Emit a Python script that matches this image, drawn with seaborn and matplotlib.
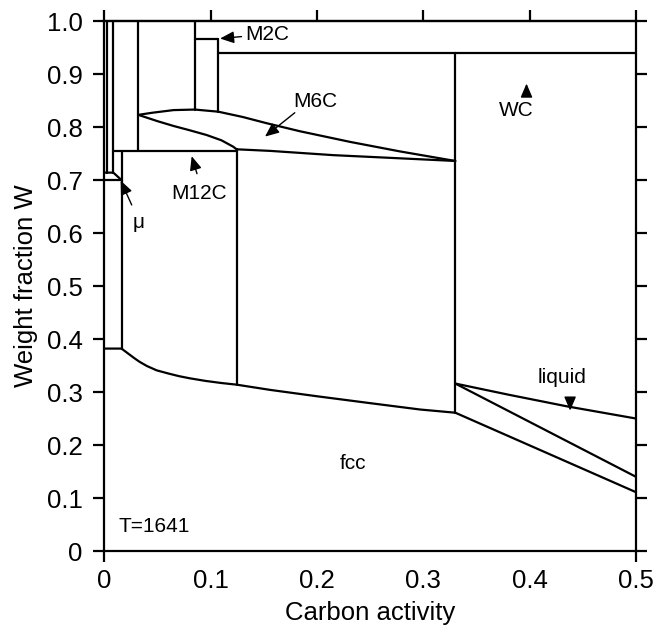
import numpy as np
import pandas as pd
import matplotlib
matplotlib.use("Agg")
import matplotlib.pyplot as plt
import seaborn as sns

# ---- phase boundaries at T = 1641 (carbon activity vs. weight fraction W) ----
fcc_x = [0.0, 0.016, 0.020, 0.024, 0.028, 0.033, 0.040, 0.049, 0.060, 0.070,
         0.080, 0.095, 0.110, 0.124, 0.156, 0.200, 0.250, 0.297, 0.330, 0.500]
fcc_w = [0.382, 0.382, 0.376, 0.370, 0.364, 0.357, 0.349, 0.341, 0.335, 0.330,
         0.326, 0.321, 0.317, 0.314, 0.304, 0.292, 0.279, 0.267, 0.261, 0.111]

m6c_upper_x = [0.0318, 0.045, 0.065, 0.085, 0.107, 0.130, 0.153, 0.184, 0.231, 0.278, 0.330]
m6c_upper_w = [0.823, 0.827, 0.832, 0.833, 0.829, 0.819, 0.807, 0.792, 0.772, 0.754, 0.736]

m6c_lower_x = [0.0318, 0.050, 0.065, 0.080, 0.096, 0.110, 0.121, 0.1243, 0.156, 0.215, 0.278, 0.330]
m6c_lower_w = [0.823, 0.811, 0.802, 0.794, 0.785, 0.775, 0.763, 0.758, 0.755, 0.747, 0.741, 0.736]

liquid_upper_x = [0.330, 0.380, 0.435, 0.500]
liquid_upper_w = [0.316, 0.295, 0.273, 0.250]

liquid_lower_x = [0.330, 0.500]
liquid_lower_w = [0.316, 0.140]

wc_x = [0.107, 0.500]
wc_w = [0.940, 0.940]

m2c_x = [0.085, 0.107]
m2c_w = [0.967, 0.967]

m12c_x = [0.0083, 0.1243]
m12c_w = [0.755, 0.755]

mu_upper_x = [0.0, 0.0083, 0.016]
mu_upper_w = [0.714, 0.714, 0.700]
mu_lower_x = [0.0, 0.016]
mu_lower_w = [0.700, 0.700]

# vertical boundaries: (x, W top, W bottom)
vert_x = [0.0026, 0.0083, 0.016, 0.0318, 0.085, 0.107, 0.1243, 0.330]
vert_top = [1.000, 1.000, 0.755, 1.000, 1.000, 0.967, 0.758, 0.940]
vert_bot = [0.714, 0.714, 0.382, 0.755, 0.833, 0.829, 0.314, 0.261]

x_ticks = [0, 0.1, 0.2, 0.3, 0.4, 0.5]
x_tick_labels = ["0", "0.1", "0.2", "0.3", "0.4", "0.5"]
y_ticks = [0, 0.1, 0.2, 0.3, 0.4, 0.5, 0.6, 0.7, 0.8, 0.9, 1.0]
y_tick_labels = ["0", "0.1", "0.2", "0.3", "0.4", "0.5", "0.6", "0.7", "0.8", "0.9", "1.0"]

# ---- assemble one long table of line segments ----
rows = []
def add(name, xs, ws):
    for i, (a, b) in enumerate(zip(xs, ws)):
        rows.append({"seg": name, "order": i, "x": a, "w": b})

add("fcc", fcc_x, fcc_w)
add("m6c_upper", m6c_upper_x, m6c_upper_w)
add("m6c_lower", m6c_lower_x, m6c_lower_w)
add("liquid_upper", liquid_upper_x, liquid_upper_w)
add("liquid_lower", liquid_lower_x, liquid_lower_w)
add("wc", wc_x, wc_w)
add("m2c", m2c_x, m2c_w)
add("m12c", m12c_x, m12c_w)
add("mu_upper", mu_upper_x, mu_upper_w)
add("mu_lower", mu_lower_x, mu_lower_w)
for k, (vx, t, b) in enumerate(zip(vert_x, vert_top, vert_bot)):
    add(f"v{k}", [vx, vx], [t, b])
df = pd.DataFrame(rows)

sns.set_theme(style="white")
plt.rcParams["font.family"] = ["Liberation Sans", "DejaVu Sans"]
plt.rcParams["axes.linewidth"] = 1.6
plt.rcParams["text.color"] = "black"
plt.rcParams["axes.labelcolor"] = "black"

fig = plt.figure(figsize=(6.69, 6.36), dpi=100)
ax = fig.add_axes([0.1562, 0.1336, 0.7945, 0.8333])

sns.lineplot(data=df, x="x", y="w", units="seg", estimator=None, sort=False,
             color="black", lw=1.6, legend=False, ax=ax)

ax.set_xlim(0, 0.5)
ax.set_ylim(0, 1.0)
for s in ax.spines.values():
    s.set_color("black")
    s.set_linewidth(1.6)

ax.set_xticks(x_ticks)
ax.set_xticklabels(x_tick_labels)
ax.set_yticks(y_ticks)
ax.set_yticklabels(y_tick_labels)
ax.tick_params(axis="x", direction="in", length=7.8, width=1.6, color="black",
               labelsize=18.5, pad=13, labelcolor="black")
ax.tick_params(axis="y", direction="out", length=7.8, width=1.6, color="black",
               left=True, right=True, labelsize=18.5, pad=8, labelcolor="black")

top = ax.secondary_xaxis("top")
top.set_xticks(x_ticks)
top.set_xticklabels([])
top.tick_params(direction="out", length=7.8, width=1.6, color="black")
top.spines["top"].set_linewidth(1.6)

# frame corners that run past the bottom edge
ext = 11 / 530
for xa in (0, 1):
    ax.plot([xa, xa], [-ext, 0], transform=ax.transAxes, color="black",
            lw=1.6, clip_on=False, solid_capstyle="butt")

ax.set_xlabel("Carbon activity", fontsize=18.5, labelpad=6, color="black")
ax.set_ylabel("Weight fraction W", fontsize=18.5, labelpad=6, color="black")

# ---- phase labels ----
afs = 15
arrow = dict(arrowstyle="-|>,head_length=0.7,head_width=0.3", color="black",
             lw=1.0, shrinkA=0, shrinkB=0, mutation_scale=12)

ax.annotate("M2C", xy=(0.1087, 0.967), xytext=(0.132, 0.975),
            ha="left", va="center", fontsize=afs, color="black", arrowprops=arrow)
ax.annotate("", xy=(0.151, 0.782), xytext=(0.179, 0.827), arrowprops=arrow)
ax.text(0.198, 0.849, "M6C", ha="center", va="center", fontsize=afs, color="black")
ax.annotate("", xy=(0.082, 0.745), xytext=(0.087, 0.712), arrowprops=arrow)
ax.text(0.089, 0.675, "M12C", ha="center", va="center", fontsize=afs, color="black")
ax.annotate("", xy=(0.0152, 0.699), xytext=(0.0256, 0.653), arrowprops=arrow)
ax.text(0.0318, 0.62, "\u03bc", ha="center", va="center", fontsize=afs, color="black")
ax.annotate("", xy=(0.397, 0.882), xytext=(0.397, 0.865), arrowprops=arrow)
ax.text(0.387, 0.832, "WC", ha="center", va="center", fontsize=afs, color="black")
ax.annotate("", xy=(0.438, 0.265), xytext=(0.438, 0.282), arrowprops=arrow)
ax.text(0.43, 0.328, "liquid", ha="center", va="center", fontsize=afs, color="black")
ax.text(0.234, 0.166, "fcc", ha="center", va="center", fontsize=afs, color="black")
ax.text(0.013, 0.047, "T=1641", ha="left", va="center", fontsize=afs, color="black")

fig.savefig("out.png", dpi=100)
